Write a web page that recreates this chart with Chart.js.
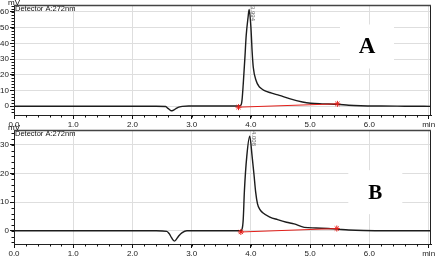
<!DOCTYPE html>
<html lang="en">
<head>
    <meta charset="UTF-8">
    <title>Chromatograms A and B</title>
    <script src="https://cdn.jsdelivr.net/npm/chart.js"></script>
    <style>
        body { margin: 0; background: #fff; width: 443px; height: 260px; position: relative; overflow: hidden; }
        canvas { position: absolute; left: 0; }
        #chartA { top: 0; }
        #chartB { top: 122px; }
    </style>
</head>
<body>
    <canvas id="chartA" width="443" height="130"></canvas>
    <canvas id="chartB" width="443" height="138"></canvas>

    <script>
        // Trace A (time in min, signal in mV)
        const timeA = [0, 0.5, 1.0, 1.5, 2.0, 2.4, 2.56, 2.60, 2.64, 2.67, 2.70, 2.73, 2.77, 2.84, 2.95, 3.3, 3.6, 3.79,
            3.83, 3.85, 3.87, 3.90, 3.92, 3.95, 3.97, 4.00, 4.02, 4.04, 4.09, 4.13, 4.17, 4.22, 4.35, 4.48, 4.65, 4.87,
            5.01, 5.20, 5.46, 5.65, 5.85, 6.2, 6.6, 7.04];
        const mvA = [0, 0, 0, 0, 0, 0, -0.2, -1.4, -2.6, -2.9, -2.4, -1.6, -0.7, -0.1, 0.1, 0.1, 0.1, 0.1,
            0.6, 4, 14, 32, 45, 56, 61.5, 50, 35, 24.6, 16, 13, 11.4, 10, 8.3, 6.9, 4.8, 2.7,
            1.9, 1.5, 1.2, 0.6, 0.3, 0.1, 0, -0.1];

        // Trace B
        const timeB = [0, 0.5, 1.0, 1.5, 2.0, 2.4, 2.58, 2.62, 2.66, 2.71, 2.74, 2.78, 2.84, 2.92, 3.2, 3.5, 3.82,
            3.85, 3.87, 3.89, 3.93, 3.98, 4.02, 4.05, 4.08, 4.11, 4.15, 4.20, 4.32, 4.45, 4.60, 4.73, 4.90,
            5.10, 5.30, 5.45, 5.65, 5.90, 6.3, 7.04];
        const mvB = [0, 0, 0, 0, 0, 0, -0.2, -1.0, -2.4, -3.6, -3.0, -1.8, -0.6, 0, 0, 0, 0,
            0.6, 4, 14, 26, 33, 26, 20, 13.5, 9.5, 7.5, 6.3, 4.8, 3.9, 3.0, 2.4, 1.2,
            1.0, 0.8, 0.6, 0.3, 0.1, 0, 0];

        // Integration baselines (start / end)
        const baseTimeA = [3.79, 5.46];
        const baseMvA = [-0.6, 1.5];
        const baseTimeB = [3.83, 5.45];
        const baseMvB = [-0.4, 0.8];

        // Peak retention time labels
        const peakTimeA = 3.97, peakLabelA = '3.994';
        const peakTimeB = 3.98, peakLabelB = '4.008';

        // Axis ticks
        const xTicks = [0, 1, 2, 3, 4, 5, 6, 7];
        const xTickLabels = ['0.0', '1.0', '2.0', '3.0', '4.0', '5.0', '6.0', 'min'];
        const yTicksA = [0, 10, 20, 30, 40, 50, 60];
        const yTicksB = [0, 10, 20, 30];

        const toPoints = (xs, ys) => xs.map((x, i) => ({ x: x, y: ys[i] }));

        // frame, minor ticks, labels, letter box
        const decoPlugin = {
            id: 'deco',
            beforeDatasetsDraw(chart, args, o) {
                const ctx = chart.ctx, x = chart.scales.x, y = chart.scales.y;
                const cx = x.getPixelForValue(o.letterAt[0]), cy = y.getPixelForValue(o.letterAt[1]);
                ctx.save();
                ctx.fillStyle = '#fff';
                ctx.fillRect(cx - 27, cy - 22, 54, 44);
                ctx.restore();
            },
            afterDraw(chart, args, o) {
                const ctx = chart.ctx, a = chart.chartArea;
                const x = chart.scales.x, y = chart.scales.y;
                ctx.save();
                // frame
                ctx.strokeStyle = '#222';
                ctx.lineWidth = 1;
                ctx.beginPath();
                ctx.moveTo(a.right - 0.5, a.top); ctx.lineTo(a.right - 0.5, a.bottom);
                ctx.stroke();
                ctx.strokeStyle = '#444';
                ctx.lineWidth = 1.5;
                ctx.beginPath();
                ctx.moveTo(a.left, a.top + 0.5); ctx.lineTo(a.right, a.top + 0.5);
                ctx.stroke();
                // minor ticks
                ctx.strokeStyle = '#111';
                ctx.lineWidth = 1;
                ctx.beginPath();
                for (let v = 0.2; v < 7.0; v += 0.2) {
                    const px = Math.round(x.getPixelForValue(v)) + 0.5;
                    ctx.moveTo(px, a.bottom); ctx.lineTo(px, a.bottom + 2.5);
                }
                for (let v = Math.ceil(y.min / 2) * 2; v <= y.max; v += 2) {
                    const py = Math.round(y.getPixelForValue(v)) + 0.5;
                    ctx.moveTo(a.left - 2.5, py); ctx.lineTo(a.left, py);
                }
                ctx.stroke();
                // texts
                ctx.fillStyle = '#111';
                ctx.font = '7.5px "Liberation Sans", Arial, sans-serif';
                ctx.textBaseline = 'top';
                ctx.textAlign = 'left';
                ctx.fillText('Detector A:272nm', a.left + 1, a.top + 0.5);
                ctx.font = '8px "Liberation Sans", Arial, sans-serif';
                ctx.textBaseline = 'alphabetic';
                ctx.fillText('mV', 8, a.top - 0.5);
                // peak label
                const px = x.getPixelForValue(o.peakTime) + 4;
                ctx.translate(px, a.top + 1);
                ctx.rotate(Math.PI / 2);
                ctx.fillStyle = '#666';
                ctx.font = '6px "Liberation Sans", Arial, sans-serif';
                ctx.textBaseline = 'middle';
                ctx.fillText(o.peakLabel, 0, 0);
                ctx.restore();
                // letter
                ctx.save();
                ctx.fillStyle = '#000';
                ctx.font = 'bold ' + o.letterSize + 'px "Liberation Serif", "Times New Roman", serif';
                ctx.textAlign = 'center';
                ctx.textBaseline = 'middle';
                ctx.fillText(o.letter, x.getPixelForValue(o.letterAt[0]), y.getPixelForValue(o.letterAt[1]) + 1);
                ctx.restore();
            }
        };

        function makeChart(id, times, mvs, baseT, baseMv, yTicks, yMin, yMax, padTop, xHeight, deco) {
            return new Chart(document.getElementById(id), {
                type: 'line',
                data: {
                    datasets: [
                        {
                            data: toPoints(baseT, baseMv),
                            borderColor: '#e3201b',
                            borderWidth: 1,
                            pointStyle: 'star',
                            pointRadius: 3,
                            pointBorderColor: '#e3201b',
                            pointBorderWidth: 1
                        },
                        {
                            data: toPoints(times, mvs),
                            borderColor: '#1c1c1c',
                            borderWidth: 1.4,
                            pointRadius: 0,
                            cubicInterpolationMode: 'monotone'
                        }
                    ]
                },
                options: {
                    responsive: false,
                    animation: false,
                    devicePixelRatio: 1,
                    layout: { padding: { top: padTop, right: 12, left: 0, bottom: 0 } },
                    plugins: { legend: { display: false }, tooltip: { enabled: false }, deco: deco },
                    scales: {
                        x: {
                            type: 'linear',
                            min: 0,
                            max: 7.04,
                            afterFit: s => { s.height = xHeight; s.paddingLeft = 0; s.paddingRight = 0; },
                            afterBuildTicks: s => { s.ticks = xTicks.map(v => ({ value: v })); },
                            ticks: {
                                callback: (v, i) => xTickLabels[i],
                                color: '#222',
                                padding: 1,
                                maxRotation: 0,
                                font: { size: 8, family: '"Liberation Sans", Arial, sans-serif' }
                            },
                            grid: { color: '#dedede', tickColor: '#111', tickLength: 4 },
                            border: { color: '#222', width: 1 }
                        },
                        y: {
                            min: yMin,
                            max: yMax,
                            afterFit: s => { s.width = 14; s.paddingTop = 0; s.paddingBottom = 0; },
                            afterBuildTicks: s => { s.ticks = yTicks.map(v => ({ value: v })); },
                            ticks: {
                                color: '#222',
                                padding: 1,
                                font: { size: 8, family: '"Liberation Sans", Arial, sans-serif' }
                            },
                            grid: { color: '#dedede', tickColor: '#111', tickLength: 4 },
                            border: { color: '#222', width: 1 }
                        }
                    }
                },
                plugins: [decoPlugin]
            });
        }

        makeChart('chartA', timeA, mvA, baseTimeA, baseMvA, yTicksA, -5.6, 64.4, 1, 15,
            { letter: 'A', letterSize: 23, letterAt: [5.96, 38], peakTime: peakTimeA, peakLabel: peakLabelA });
        makeChart('chartB', timeB, mvB, baseTimeB, baseMvB, yTicksB, -4.6, 35.2, 8, 16,
            { letter: 'B', letterSize: 21, letterAt: [6.1, 13.5], peakTime: peakTimeB, peakLabel: peakLabelB });
    </script>
</body>
</html>
